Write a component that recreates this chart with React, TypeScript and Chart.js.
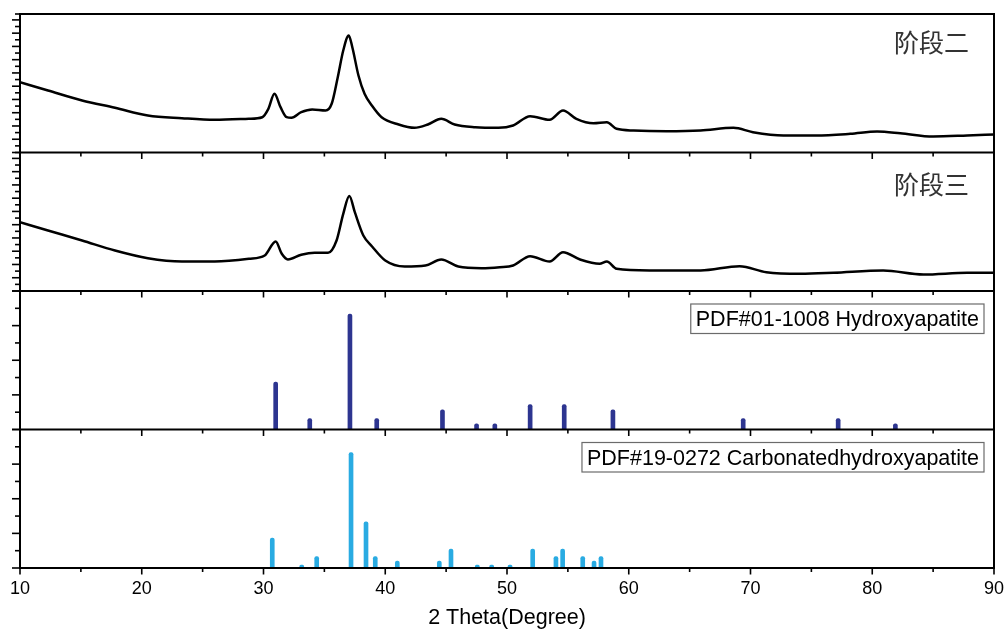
import React, { useEffect, useRef } from 'react';
import { Chart, registerables } from 'chart.js';

Chart.register(...registerables);

// ---- Data ----
// Stage 2 XRD pattern (2θ, relative intensity)
const stage2X = [10.0, 12.3, 15.1, 17.8, 20.5, 23.3, 26.0, 28.8, 29.9, 30.4, 30.9, 31.4, 31.9, 32.3, 33.1, 34.0, 35.1, 35.6, 36.1, 36.55, 37.0, 37.3, 37.8, 38.3, 38.9, 39.7, 41.1, 42.4, 43.5, 44.6, 45.7, 47.4, 49.3, 50.5, 51.9, 53.5, 54.6, 55.7, 57.1, 58.2, 59.0, 60.4, 63.1, 65.9, 68.6, 70.2, 72.7, 75.4, 78.2, 80.4, 82.3, 85.0, 87.8, 90.0];
const stage2Y = [70.3, 62, 52, 44.7, 37, 34.3, 32.7, 33.7, 35.3, 43.7, 58.7, 45.3, 35.3, 34.7, 40.3, 43, 42, 48.7, 75.3, 102, 117, 105, 77, 58.7, 47, 35.3, 28, 24.7, 28, 33.7, 28, 25.3, 24.7, 27, 36.3, 32.7, 42, 33.7, 29.3, 30.3, 23.7, 22, 21.3, 22, 24.7, 20.3, 17, 17, 18.7, 21, 19.3, 16, 17, 18];

// Stage 3 XRD pattern
const stage3X = [10.0, 12.3, 15.1, 17.8, 20.5, 23.3, 26.0, 28.8, 30.1, 31.0, 31.5, 32.0, 33.1, 34.2, 35.3, 36.0, 36.55, 37.05, 37.5, 38.2, 38.9, 40.0, 41.6, 43.3, 44.6, 46.0, 47.9, 49.4, 50.5, 51.9, 53.5, 54.6, 56.0, 57.6, 58.2, 59.0, 61.7, 65.9, 69.1, 71.3, 74.1, 76.8, 80.9, 84.2, 87.8, 90.0];
const stage3Y = [68.8, 60.5, 50.5, 40.5, 32.8, 29.5, 29.5, 32.2, 35.5, 49.5, 37.2, 31.5, 36.2, 38.2, 38.2, 50.5, 77.2, 95, 78.8, 55.5, 44.8, 30.5, 24.5, 25.5, 31.5, 24.5, 22.8, 23.8, 25.5, 34.8, 29.5, 38.8, 31.5, 27.2, 29.5, 22.2, 20.5, 20.5, 24.8, 18.8, 17.2, 18.2, 20.5, 16.5, 18.2, 18.2];

// PDF#01-1008 Hydroxyapatite reference lines
const haPos = [31.0, 33.8, 37.1, 39.3, 44.7, 47.5, 49.0, 51.9, 54.7, 58.7, 69.4, 77.2, 81.9];
const haInt = [41, 9.5, 100, 9.5, 17, 5, 5, 21.5, 21.5, 17, 9.5, 9.5, 5];

// PDF#19-0272 Carbonatedhydroxyapatite reference lines
const chaPos = [30.72, 33.14, 34.37, 37.19, 38.42, 39.18, 40.99, 44.44, 45.40, 47.56, 48.74, 50.25, 52.11, 54.02, 54.57, 56.22, 57.15, 57.72];
const chaInt = [26, 2.6, 10, 100, 40, 10, 6, 6, 16.5, 2.6, 2.6, 2.6, 16.5, 10, 16.5, 10, 6, 10];

// zero-intensity span of the card pattern
const chaSpanX = [18.8, 60.7];
const chaSpanY = [0, 0];

// Axis ticks and labels
const X_TICKS = [10, 15, 20, 25, 30, 35, 40, 45, 50, 55, 60, 65, 70, 75, 80, 85, 90];
const X_LABELED = [10, 20, 30, 40, 50, 60, 70, 80, 90];
const X_TITLE = '2 Theta(Degree)';
const PANEL_LABELS = ['阶段二', '阶段三'];
const REF_LABELS = ['PDF#01-1008 Hydroxyapatite', 'PDF#19-0272 Carbonatedhydroxyapatite'];

const SANS = '"Liberation Sans", Arial, sans-serif';

const toPts = (xs: number[], ys: number[]) => xs.map((x, i) => ({ x, y: ys[i] }));

const yScale = (min: number, max: number, step: number) => ({
  type: 'linear',
  position: 'left',
  stack: 'panels',
  stackWeight: 1,
  min,
  max,
  offset: false,
  grid: { display: false, drawTicks: false },
  border: { display: false },
  ticks: { display: false },
  afterBuildTicks: (s: any) => {
    const t: any[] = [];
    for (let k = 0; min + k * step <= max + 1e-6; k++) t.push({ value: min + k * step });
    if (Math.abs(t[t.length - 1].value - max) > 1e-6) t.push({ value: max });
    s.ticks = t;
  },
  afterFit: (s: any) => {
    s.width = 0;
    s.paddingTop = 0;
    s.paddingBottom = 0;
  },
});

const framePlugin = {
  id: 'frame',
  afterDraw(chart: any) {
    const ctx = chart.ctx as CanvasRenderingContext2D;
    const area = chart.chartArea;
    const xs = chart.scales.x;
    const panels = ['y1', 'y2', 'y3', 'y4'].map((id) => chart.scales[id]);
    ctx.save();
    ctx.strokeStyle = '#000';
    ctx.lineCap = 'butt';
    panels.forEach((sc: any) => {
      // left ticks
      sc.ticks.forEach((t: any, i: number) => {
        const py = sc.getPixelForValue(t.value);
        const len = i % 2 === 0 ? 8 : 5;
        ctx.lineWidth = 1.6;
        ctx.beginPath();
        ctx.moveTo(area.left - len, py);
        ctx.lineTo(area.left, py);
        ctx.stroke();
      });
      // bottom ticks of each panel
      xs.ticks.forEach((t: any) => {
        const px = xs.getPixelForValue(t.value);
        const len = X_LABELED.includes(t.value) ? 6.5 : 4;
        ctx.lineWidth = 1.6;
        ctx.beginPath();
        ctx.moveTo(px, sc.bottom);
        ctx.lineTo(px, sc.bottom + len);
        ctx.stroke();
      });
    });
    // frame
    ctx.lineWidth = 2;
    ctx.strokeRect(area.left, area.top, area.right - area.left, area.bottom - area.top);
    panels.forEach((sc: any) => {
      ctx.beginPath();
      ctx.moveTo(area.left, sc.bottom);
      ctx.lineTo(area.right, sc.bottom);
      ctx.stroke();
    });

    // Stage labels
    ctx.fillStyle = '#333';
    ctx.font = '25px "Noto Sans CJK SC", sans-serif';
    ctx.textAlign = 'right';
    ctx.textBaseline = 'middle';
    ctx.fillText(PANEL_LABELS[0], area.right - 25, panels[0].top + 28);
    ctx.fillText(PANEL_LABELS[1], area.right - 25, panels[1].top + 32);

    // Reference card boxes
    ctx.font = '21.5px ' + SANS;
    ctx.textAlign = 'left';
    ctx.textBaseline = 'alphabetic';
    [panels[2], panels[3]].forEach((sc: any, i: number) => {
      const text = REF_LABELS[i];
      const w = ctx.measureText(text).width;
      const right = area.right - 10;
      const left = right - w - 10;
      const top = sc.top + 13;
      ctx.fillStyle = '#fff';
      ctx.fillRect(left, top, right - left, 29.5);
      ctx.strokeStyle = '#6b6b6b';
      ctx.lineWidth = 1.2;
      ctx.strokeRect(left, top, right - left, 29.5);
      ctx.fillStyle = '#000';
      ctx.fillText(text, left + 5, top + 22);
    });
    ctx.restore();
  },
};

export default function App() {
  const ref = useRef<HTMLCanvasElement>(null);

  useEffect(() => {
    const canvas = ref.current;
    if (!canvas) return;
    Chart.defaults.font.family = SANS;
    const chart = new Chart(canvas, {
      type: 'line',
      data: {
        datasets: [
          {
            type: 'line',
            label: PANEL_LABELS[0],
            data: toPts(stage2X, stage2Y),
            yAxisID: 'y1',
            borderColor: '#000',
            borderWidth: 2.5,
            pointRadius: 0,
            cubicInterpolationMode: 'monotone',
          },
          {
            type: 'line',
            label: PANEL_LABELS[1],
            data: toPts(stage3X, stage3Y),
            yAxisID: 'y2',
            borderColor: '#000',
            borderWidth: 2.5,
            pointRadius: 0,
            cubicInterpolationMode: 'monotone',
          },
          {
            type: 'bar',
            label: REF_LABELS[0],
            data: toPts(haPos, haInt),
            yAxisID: 'y3',
            backgroundColor: '#2d3590',
            barThickness: 4,
            borderRadius: 2,
            grouped: false,
          },
          {
            type: 'bar',
            label: REF_LABELS[1],
            data: toPts(chaPos, chaInt),
            yAxisID: 'y4',
            backgroundColor: '#29abe2',
            barThickness: 4,
            borderRadius: 2,
            grouped: false,
          },
          {
            type: 'line',
            label: 'span',
            data: toPts(chaSpanX, chaSpanY),
            yAxisID: 'y4',
            borderColor: '#000',
            borderWidth: 2,
            pointRadius: 0,
            clip: 4,
          },
        ],
      } as any,
      options: {
        animation: false,
        responsive: false,
        events: [],
        layout: { padding: { left: 20, right: 11, top: 14, bottom: 0 } },
        plugins: { legend: { display: false }, tooltip: { enabled: false } },
        scales: {
          x: {
            type: 'linear',
            position: 'bottom',
            min: 10,
            max: 90,
            offset: false,
            grid: { display: false, drawTicks: false },
            border: { display: false },
            ticks: {
              autoSkip: false,
              maxRotation: 0,
              padding: 10,
              color: '#000',
              font: { size: 18, family: SANS },
              callback: (v: any) => (X_LABELED.includes(Number(v)) ? String(v) : ''),
            },
            afterBuildTicks: (s: any) => {
              s.ticks = X_TICKS.map((v) => ({ value: v }));
            },
            afterFit: (s: any) => {
              s.height = 65;
              s.paddingLeft = 0;
              s.paddingRight = 0;
            },
            title: {
              display: true,
              text: X_TITLE,
              color: '#000',
              font: { size: 21.5, family: SANS },
              padding: { top: 0, bottom: 2 },
            },
          },
          y4: yScale(0, 120, 15),
          y3: yScale(0, 120, 15),
          y2: yScale(0, 138.5, 6.63),
          y1: yScale(0, 138.5, 6.63),
        } as any,
      },
      plugins: [framePlugin],
    });
    return () => chart.destroy();
  }, []);

  return (
    <div style={{ position: 'fixed', left: 0, top: 0, width: 1005, height: 633, background: '#fff' }}>
      <canvas ref={ref} width={1005} height={633} style={{ display: 'block', width: 1005, height: 633 }} />
    </div>
  );
}
